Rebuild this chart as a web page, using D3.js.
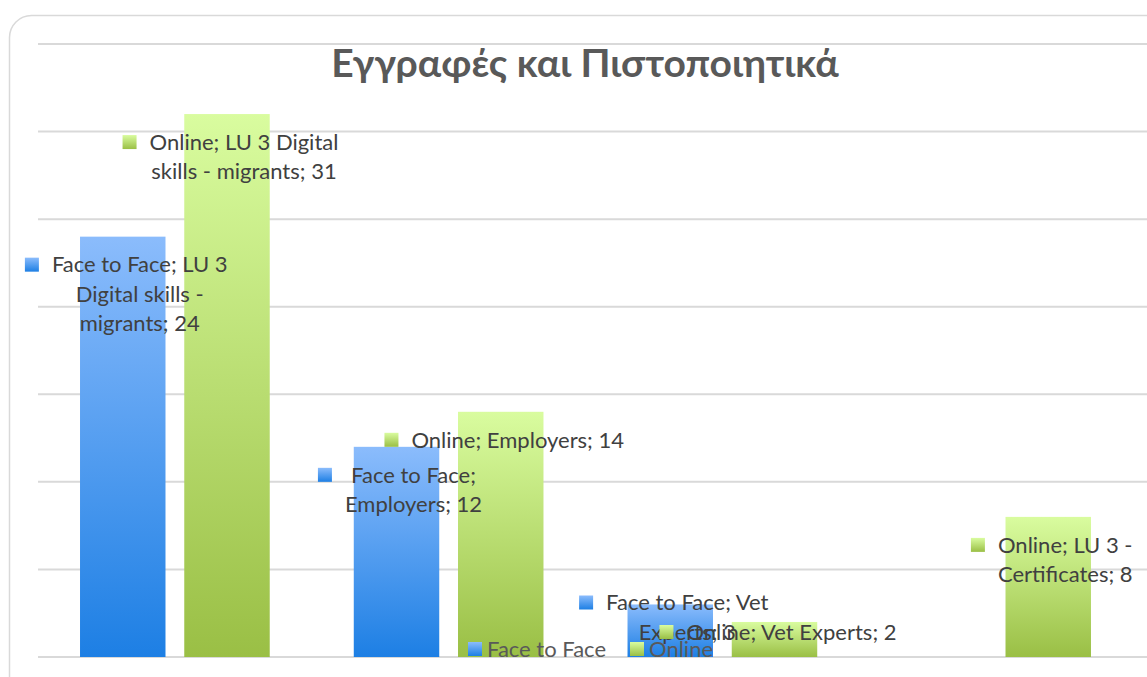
<!DOCTYPE html>
<html>
<head>
<meta charset="utf-8">
<script src="https://cdn.jsdelivr.net/npm/d3@7"></script>
<style>
  html, body { margin: 0; padding: 0; background: #fff; }
  svg { display: block; }
</style>
</head>
<body>
<script>
// chart data
const categories = ['LU 3 Digital skills - migrants', 'Employers', 'Vet Experts', 'LU 3 - Certificates']
const seriesNames = ['Face to Face', 'Online']
const faceToFace = [24, 12, 3, null]
const online = [31, 14, 2, 8]
// data labels, wrapped the way the original shows them
const faceLabels = ['Face to Face; LU 3\nDigital skills -\nmigrants; 24', 'Face to Face;\nEmployers; 12', 'Face to Face; Vet\nExperts; 3', null]
const onlineLabels = ['Online; LU 3 Digital\nskills - migrants; 31', 'Online; Employers; 14', 'Online; Vet Experts; 2', 'Online; LU 3 -\nCertificates; 8']
const chartTitle = 'Εγγραφές και Πιστοποιητικά'

const width = 1147
const height = 677
const font = "Lato, 'Noto Sans', sans-serif"

const svg = d3.select('body')
    .append('svg')
    .attr('width', width)
    .attr('height', height)

const defs = svg.append('defs')
const gradients = [
    { id: 'gBlue', top: '#8bbcfc', bottom: '#1d7fe4' },
    { id: 'gGreen', top: '#d9fc9f', bottom: '#9abf45' }
]
gradients.forEach((g) => {
    const lg = defs.append('linearGradient')
        .attr('id', g.id)
        .attr('x1', 0).attr('y1', 0)
        .attr('x2', 0).attr('y2', 1)
    lg.append('stop').attr('offset', '0%').attr('stop-color', g.top)
    lg.append('stop').attr('offset', '100%').attr('stop-color', g.bottom)
})
const fills = ['url(#gBlue)', 'url(#gGreen)']

// outer frame (runs off the right and bottom edges)
svg.append('rect')
    .attr('x', 9.5)
    .attr('y', 15.5)
    .attr('width', 1200)
    .attr('height', 720)
    .attr('rx', 22)
    .attr('fill', '#fff')
    .attr('stroke', '#d9d9d9')
    .attr('stroke-width', 1.5)

svg.append('text')
    .attr('x', 585)
    .attr('y', 77)
    .attr('text-anchor', 'middle')
    .style('font-family', font)
    .style('font-weight', 'bold')
    .style('font-size', '39px')
    .attr('fill', '#595959')
    .text(chartTitle)

// scales
const plotLeft = 38
const plotRight = 1133
const y = d3.scaleLinear().domain([0, 35]).range([657, 44])
const x0 = d3.scaleBand()
    .domain(categories)
    .range([plotLeft, plotRight])
    .paddingInner(0.307)
    .paddingOuter(0.1535)
const x1 = d3.scaleBand()
    .domain(seriesNames)
    .range([0, x0.bandwidth()])
    .paddingInner(0.18)

// gridlines
svg.append('g')
    .selectAll('line')
    .data(y.ticks(7))
    .enter()
    .append('line')
    .attr('x1', plotLeft)
    .attr('x2', width + 5)
    .attr('y1', (d) => y(d))
    .attr('y2', (d) => y(d))
    .attr('stroke', '#d9d9d9')
    .attr('stroke-width', 2)

const series = [faceToFace, online]
const labelSets = [faceLabels, onlineLabels]

const rows = []
series.forEach((vals, s) => {
    vals.forEach((v, i) => {
        if (v === null) return
        rows.push({ s: s, cat: categories[i], value: v, label: labelSets[s][i] })
    })
})

svg.append('g')
    .selectAll('rect')
    .data(rows)
    .enter()
    .append('rect')
    .attr('x', (d) => x0(d.cat) + x1(seriesNames[d.s]))
    .attr('y', (d) => y(d.value))
    .attr('width', x1.bandwidth())
    .attr('height', (d) => y(0) - y(d.value))
    .attr('fill', (d) => fills[d.s])

// data labels with legend keys
const lineH = 29.5
const labelLayer = svg.append('g')
rows.forEach((d) => {
    const lines = d.label.split('\n')
    const cx = x0(d.cat) + x1(seriesNames[d.s]) + x1.bandwidth() / 2 + 17
    const firstY = Math.min(y(d.value) + 28, y(0) - 25 - (lines.length - 1) * lineH)
    const g = labelLayer.append('g')
    const t = g.append('text')
        .attr('text-anchor', 'middle')
        .style('font-family', font)
        .style('font-size', '22px')
        .attr('fill', '#404040')
    lines.forEach((ln, k) => {
        t.append('tspan')
            .attr('x', cx)
            .attr('y', firstY + k * lineH)
            .attr('dy', '0.35em')
            .text(ln)
    })
    let w = 0
    t.selectAll('tspan').each(function () { w = Math.max(w, this.getComputedTextLength()) })
    g.insert('rect', 'text')
        .attr('x', cx - w / 2 - 27)
        .attr('y', firstY - 7)
        .attr('width', 14)
        .attr('height', 14)
        .attr('fill', fills[d.s])
})

// legend
const legend = svg.append('g')
const legendX = [468, 630]
seriesNames.forEach((name, s) => {
    legend.append('rect')
        .attr('x', legendX[s])
        .attr('y', 642)
        .attr('width', 14)
        .attr('height', 14)
        .attr('fill', fills[s])
    legend.append('text')
        .attr('x', legendX[s] + 19)
        .attr('y', 649)
        .attr('dy', '0.35em')
        .style('font-family', font)
        .style('font-size', '22px')
        .attr('fill', '#595959')
        .text(name)
})
</script>
</body>
</html>
